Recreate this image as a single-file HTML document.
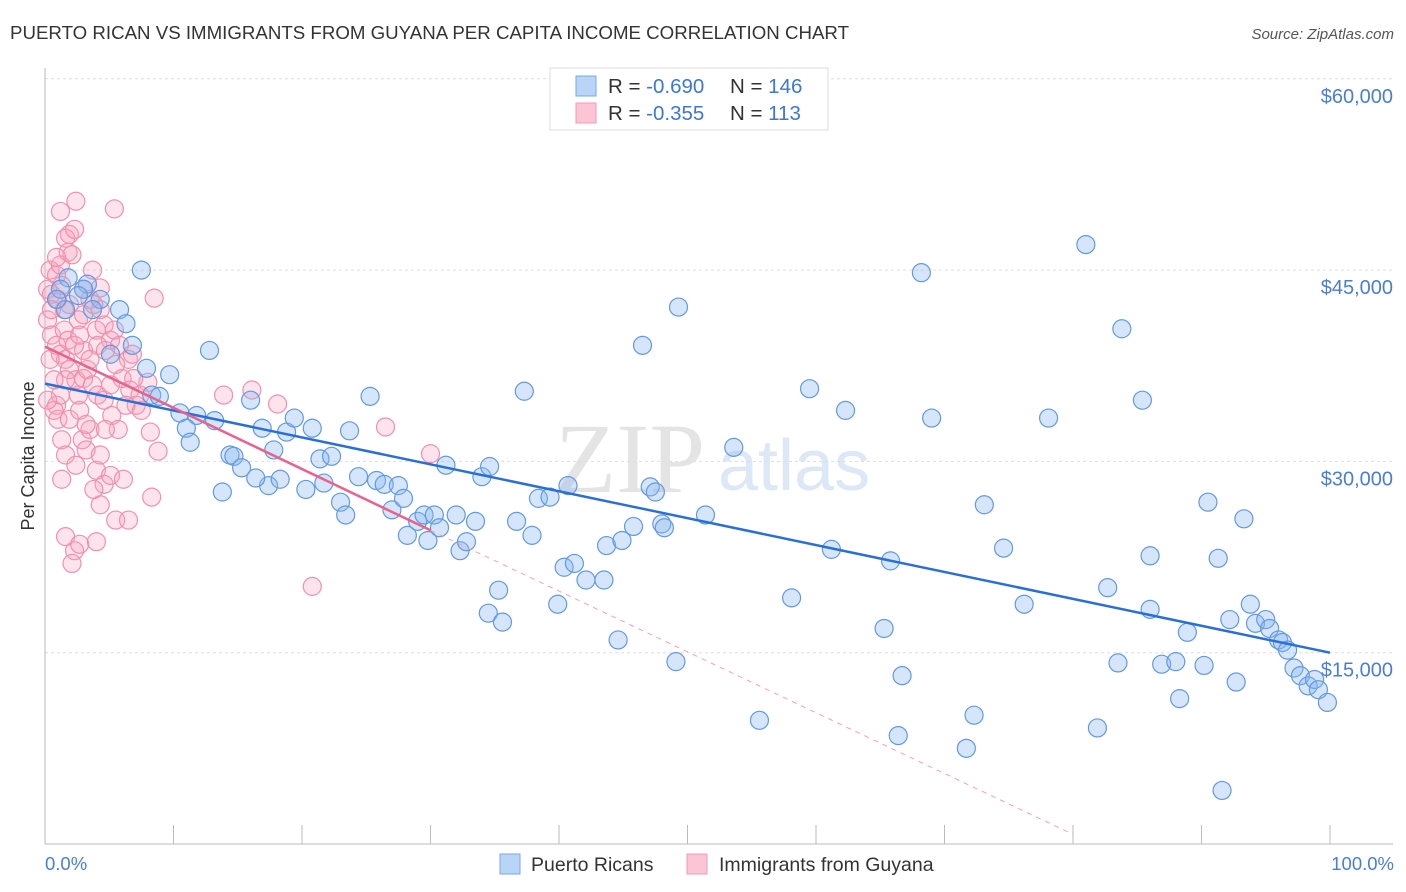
<!DOCTYPE html>
<html><head><meta charset="utf-8"><style>
body{margin:0;background:#fff;font-family:"Liberation Sans",sans-serif}
svg{display:block}
</style></head><body>
<svg id="chart" width="1406" height="892" xmlns="http://www.w3.org/2000/svg">
<text x="10" y="39" font-size="18" fill="#333" textLength="839" lengthAdjust="spacingAndGlyphs">PUERTO RICAN VS IMMIGRANTS FROM GUYANA PER CAPITA INCOME CORRELATION CHART</text>
<text x="1394" y="39" font-size="15" fill="#555" font-style="italic" text-anchor="end">Source: ZipAtlas.com</text>
<text x="555" y="492" font-size="100" fill="#e4e4e4" font-family="Liberation Serif">ZIP</text>
<text x="718" y="490" font-size="72" fill="#dce8f6">atlas</text>
<g id="grid"></g>
<g id="axes"></g>
<g id="trends"></g>
<g id="points"></g>
<text transform="translate(34,456) rotate(-90)" font-size="18" fill="#333" text-anchor="middle">Per Capita Income</text>
<text x="45" y="870" font-size="18.5" fill="#4a7fd0">0.0%</text>
<text x="1394" y="870" font-size="18.5" fill="#4a7fd0" text-anchor="end">100.0%</text>
<g>
<rect x="550" y="68" width="278" height="62" fill="#fff" stroke="#ddd"/>
<rect x="576" y="76" width="20" height="20" fill="#b8d4f7" stroke="#7aa9e6"/>
<rect x="576" y="103" width="20" height="20" fill="#fbc5d6" stroke="#f19ab6"/>
<text x="608" y="93" font-size="20.5" fill="#333">R = <tspan fill="#3d77d4">-0.690</tspan></text>
<text x="730" y="93" font-size="20.5" fill="#333">N = <tspan fill="#3d77d4">146</tspan></text>
<text x="608" y="120" font-size="20.5" fill="#333">R = <tspan fill="#3d77d4"> -0.355</tspan></text>
<text x="730" y="120" font-size="20.5" fill="#333">N = <tspan fill="#3d77d4"> 113</tspan></text>
</g>
<g>
<rect x="500" y="854" width="20" height="20" fill="#b8d4f7" stroke="#7aa9e6"/>
<text x="531" y="871" font-size="19.5" fill="#333">Puerto Ricans</text>
<rect x="687" y="854" width="20" height="20" fill="#fbc5d6" stroke="#f19ab6"/>
<text x="719" y="871" font-size="19.5" fill="#333">Immigrants from Guyana</text>
</g>
</svg>
<script>
const yTicks=[15,30,45,60];
const yTickLabels=["$15,000","$30,000","$45,000","$60,000"];
const xTicks=[0,10,20,30,40,50,60,70,80,90,100];
const blueX=[7.5,1.8,3.3,4.3,1.2,5.8,6.3,5.1,6.8,7.9,9.7,8.3,8.9,10.5,11.8,11.0,11.3,12.8,13.2,13.8,14.4,14.7,15.3,16.0,16.9,17.4,16.4,17.8,18.3,18.8,19.4,20.3,20.8,21.4,21.7,22.3,23.0,23.4,23.7,24.4,25.3,25.8,26.4,27.0,27.5,27.9,28.2,29.0,29.5,29.8,30.3,30.7,31.2,32.0,32.3,32.8,33.5,34.0,34.6,35.3,34.5,35.6,36.7,37.3,37.9,38.4,39.3,39.9,40.4,41.2,40.7,42.1,43.5,43.7,44.6,44.9,45.8,46.5,47.1,47.5,48.0,48.2,49.1,49.3,51.4,53.6,55.6,58.1,59.5,61.2,62.3,65.3,65.8,66.7,66.4,68.2,69.0,71.7,72.3,73.1,74.6,76.2,78.1,81.0,81.9,82.7,83.5,83.8,85.4,86.0,86.0,86.9,88.0,88.3,88.9,90.2,90.5,91.3,91.6,92.2,92.7,93.3,93.8,94.2,95.0,95.3,96.0,96.3,96.7,97.2,97.7,98.3,98.8,99.1,99.8,3.0,1.6,3.7,2.6,0.9];
const blueY=[45.0,44.4,43.9,42.7,43.5,41.9,40.8,38.4,39.1,37.3,36.8,35.2,35.1,33.8,33.6,32.6,31.5,38.7,33.2,27.6,30.5,30.4,29.5,34.8,32.6,28.1,28.7,30.9,28.6,32.3,33.4,27.8,32.6,30.2,28.3,30.4,26.8,25.8,32.4,28.8,35.1,28.5,28.2,26.2,28.1,27.1,24.2,25.3,25.8,23.8,25.8,24.8,29.7,25.8,23.0,23.7,25.3,28.8,29.6,19.9,18.1,17.4,25.3,35.5,24.2,27.1,27.2,18.8,21.7,22.0,28.1,20.7,20.7,23.4,16.0,23.8,24.9,39.1,28.0,27.6,25.1,24.8,14.3,42.1,25.8,31.1,9.7,19.3,35.7,23.1,34.0,16.9,22.2,13.2,8.5,44.8,33.4,7.5,10.1,26.6,23.2,18.8,33.4,47.0,9.1,20.1,14.2,40.4,34.8,22.6,18.4,14.1,14.3,11.4,16.6,14.0,26.8,22.4,4.2,17.6,12.7,25.5,18.8,17.3,17.6,16.9,16.0,15.8,15.2,13.8,13.2,12.4,12.9,12.1,11.1,43.5,41.9,41.9,43.0,42.7];
const pinkX=[1.2,2.4,5.4,1.9,1.6,2.3,1.8,2.1,0.4,0.9,1.3,3.7,0.2,0.5,1.0,1.5,1.9,2.6,3.0,3.5,4.0,4.3,4.6,5.1,5.4,5.8,6.5,6.8,0.2,0.5,0.9,1.2,1.6,1.9,2.4,3.0,3.3,3.7,4.1,4.6,5.1,5.5,6.0,6.6,7.1,7.5,8.0,8.5,0.9,1.0,1.3,1.6,1.9,2.4,2.9,3.2,3.5,4.0,4.3,4.6,5.1,5.5,6.1,6.5,6.9,7.4,8.2,8.3,8.8,1.6,2.3,2.7,2.1,4.0,4.3,3.8,13.9,16.1,18.1,26.5,30.0,20.8,1.3,1.6,0.7,1.2,2.7,3.2,0.4,0.7,0.2,3.0,2.6,3.5,4.1,4.7,5.2,5.7,4.7,6.3,1.5,1.8,2.3,2.7,3.0,3.8,4.3,1.2,0.9,0.5];
const pinkY=[49.6,50.4,49.8,47.8,47.5,48.2,46.4,46.2,45.0,44.6,43.8,45.0,43.5,43.1,42.7,41.9,42.3,41.1,41.5,42.7,40.3,41.9,40.7,39.5,40.3,39.1,38.0,38.4,41.1,39.9,39.1,38.4,38.0,37.2,36.4,36.5,37.2,36.0,35.2,34.8,36.0,37.6,36.5,35.6,34.4,34.0,36.2,42.8,34.4,33.3,31.7,30.5,33.3,29.7,31.7,30.9,32.5,29.3,30.5,28.2,28.9,25.4,28.6,25.4,36.5,35.2,32.3,27.2,30.8,24.1,23.0,23.5,22.0,23.7,26.6,27.8,35.2,35.6,34.5,32.7,30.6,20.2,28.6,36.4,34.0,35.2,34.0,32.9,38.0,36.4,34.8,38.7,35.2,38.0,39.1,38.7,33.6,32.5,32.5,34.4,40.3,39.5,39.1,39.9,43.5,42.3,43.6,45.4,46.0,41.9];
const blueTrend=[[0,36.1],[100,15.0]];
const pinkTrend=[[0,39.0],[30,24.6]];
const pinkTrendExt=[[30,24.6],[80,0.76]];

const NS="http://www.w3.org/2000/svg";
const X0=45,X1=1330,YB=844,PXPK=191.3/15;
function xs(v){return X0+(X1-X0)*v/100;}
function ys(v){return YB-v*PXPK;}
function mk(tag,attrs,parent){const e=document.createElementNS(NS,tag);for(const k in attrs)e.setAttribute(k,attrs[k]);parent.appendChild(e);return e;}
const grid=document.getElementById('grid'),axes=document.getElementById('axes'),trends=document.getElementById('trends'),pts=document.getElementById('points');
yTicks.forEach((t,i)=>{
  const l=mk('line',{x1:X0,x2:1393,y1:ys(t),y2:ys(t),stroke:'#ddd','stroke-dasharray':'3,3'},grid);
  
  
  const tx=mk('text',{x:1393,y:ys(t)+24,'font-size':20,fill:'#4a7fd0','text-anchor':'end'},grid);
  tx.textContent=yTickLabels[i];
  
  
});
const ya=mk('line',{x1:X0,x2:X0,y1:68,y2:YB,stroke:'#bbb'},axes);


const xa=mk('line',{x1:X0,x2:1393,y1:YB,y2:YB,stroke:'#bbb'},axes);


xTicks.forEach(t=>{
  const l=mk('line',{x1:xs(t),x2:xs(t),y1:YB,y2:YB-19,stroke:'#bbb'},axes);
  
  
});
function drawPts(X,Y,fill,stroke,name){
  X.forEach((x,i)=>{
    const c=mk('circle',{cx:xs(x),cy:ys(Y[i]),r:9,fill:fill,stroke:stroke,'stroke-width':1.2},pts);
    
    
  });
}
drawPts(pinkX,pinkY,'rgba(248,165,192,0.3)','#f090ae','guyana-point');
drawPts(blueX,blueY,'rgba(135,182,242,0.35)','#6399e0','puerto-rican-point');
function line(p,col,w,dash,name){
  const l=mk('line',{x1:xs(p[0][0]),y1:ys(p[0][1]),x2:xs(p[1][0]),y2:ys(p[1][1]),stroke:col,'stroke-width':w},trends);
  if(dash)l.setAttribute('stroke-dasharray',dash);
  
  
}
line(pinkTrendExt,'#f0a0b8',1,'5,5','guyana-trend-extension');
trends.parentNode.appendChild(trends);
line(blueTrend,'#2a6fd6',2.5,null,'puerto-rican-trend');
line(pinkTrend,'#e8628e',2.5,null,'guyana-trend');
</script>
</body></html>
